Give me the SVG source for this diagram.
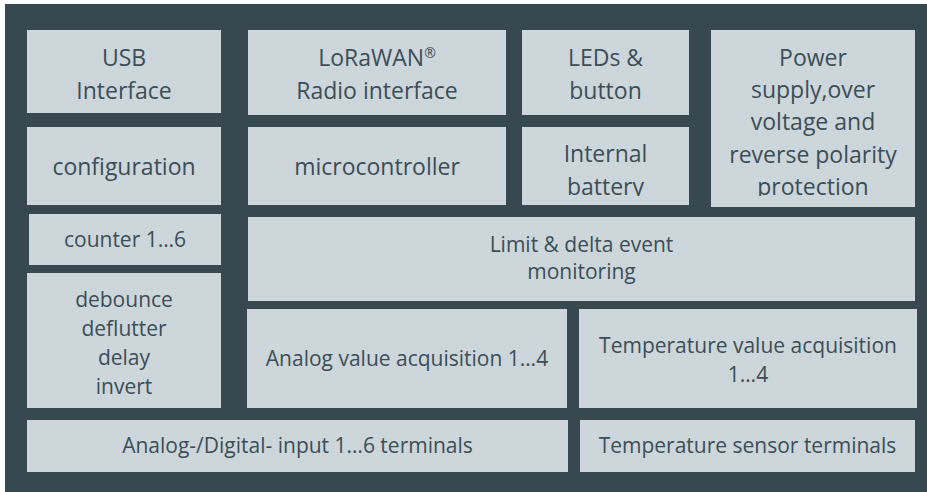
<svg xmlns="http://www.w3.org/2000/svg" width="927" height="492" viewBox="0 0 927 492">
  <style>
    .frame { fill: #37484f; }
    .box { fill: #cdd6da; }
    .lbl { font-family: "Open Sans", "Liberation Sans", sans-serif; fill: #3c4e57; text-anchor: middle; }
    .big { font-size: 23px; }
    .small { font-size: 21px; }
    .sup { font-size: 14px; }
  </style>
  <defs>
    <!-- text in the battery and power blocks overflows and is cut at the text frame -->
    <clipPath id="clip-battery"><rect x="522" y="127" width="167" height="69"/></clipPath>
    <clipPath id="clip-power"><rect x="711" y="30" width="204" height="166"/></clipPath>
  </defs>

  <!-- device housing -->
  <rect class="frame" x="5" y="4" width="922" height="488"/>

  <g id="usb-interface">
    <rect class="box" x="27" y="30" width="194" height="83"/>
    <text class="lbl big" x="124" y="65.7">USB</text>
    <text class="lbl big" x="124" y="99">Interface</text>
  </g>

  <g id="lorawan-radio">
    <rect class="box" x="248" y="30" width="258" height="85"/>
    <text class="lbl big" x="377" y="65.7">LoRaWAN<tspan class="sup" dy="-8">®</tspan></text>
    <text class="lbl big" x="377" y="99">Radio interface</text>
  </g>

  <g id="leds-button">
    <rect class="box" x="522" y="30" width="167" height="85"/>
    <text class="lbl big" x="605.5" y="65.7">LEDs &amp;</text>
    <text class="lbl big" x="605.5" y="99">button</text>
  </g>

  <g id="power-supply">
    <rect class="box" x="711" y="30" width="204" height="177"/>
    <g clip-path="url(#clip-power)">
      <text class="lbl big" x="813" y="65.7">Power</text>
      <text class="lbl big" x="813" y="98">supply,over</text>
      <text class="lbl big" x="813" y="130.3">voltage and</text>
      <text class="lbl big" x="813" y="162.7">reverse polarity</text>
      <text class="lbl big" x="813" y="195">protection</text>
    </g>
  </g>

  <g id="configuration">
    <rect class="box" x="27" y="127" width="194" height="78"/>
    <text class="lbl big" x="124" y="175">configuration</text>
  </g>

  <g id="microcontroller">
    <rect class="box" x="248" y="127" width="258" height="78"/>
    <text class="lbl big" x="377" y="175">microcontroller</text>
  </g>

  <g id="internal-battery">
    <rect class="box" x="522" y="127" width="167" height="78"/>
    <g clip-path="url(#clip-battery)">
      <text class="lbl big" x="605.5" y="162.3">Internal</text>
      <text class="lbl big" x="605.5" y="195">battery</text>
    </g>
  </g>

  <g id="counter">
    <rect class="box" x="29" y="214" width="192" height="51"/>
    <text class="lbl small" x="125" y="246.7">counter 1…6</text>
  </g>

  <g id="input-filter">
    <rect class="box" x="27" y="273" width="194" height="135"/>
    <text class="lbl small" x="124" y="306.7">debounce</text>
    <text class="lbl small" x="124" y="335.5">deflutter</text>
    <text class="lbl small" x="124" y="364.5">delay</text>
    <text class="lbl small" x="124" y="394">invert</text>
  </g>

  <g id="event-monitoring">
    <rect class="box" x="248" y="217" width="667" height="84"/>
    <text class="lbl small" x="581.5" y="251.7">Limit &amp; delta event</text>
    <text class="lbl small" x="581.5" y="278.5">monitoring</text>
  </g>

  <g id="analog-acquisition">
    <rect class="box" x="247" y="309" width="320" height="99"/>
    <text class="lbl small" x="407" y="365.7">Analog value acquisition 1…4</text>
  </g>

  <g id="temperature-acquisition">
    <rect class="box" x="579" y="309" width="338" height="99"/>
    <text class="lbl small" x="748" y="353.3">Temperature value acquisition</text>
    <text class="lbl small" x="748" y="381.7">1…4</text>
  </g>

  <g id="analog-digital-terminals">
    <rect class="box" x="27" y="420" width="541" height="52"/>
    <text class="lbl small" x="297.5" y="453.3">Analog-/Digital- input 1…6 terminals</text>
  </g>

  <g id="temperature-terminals">
    <rect class="box" x="580" y="420" width="335" height="52"/>
    <text class="lbl small" x="747.5" y="453.3">Temperature sensor terminals</text>
  </g>

  <!-- block diagram has no connectors -->
  <g id="connectors"/>
</svg>
